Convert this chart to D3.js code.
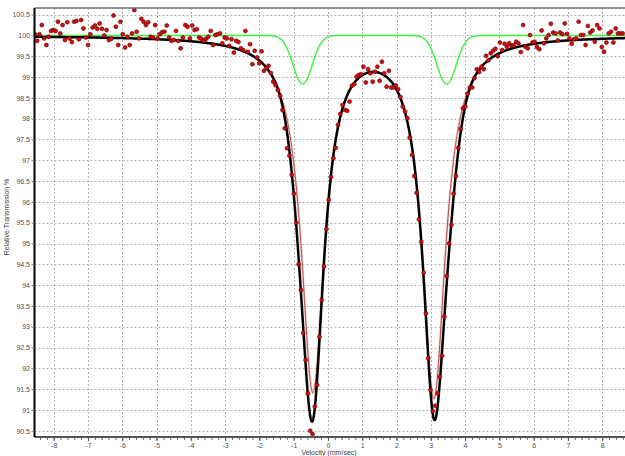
<!DOCTYPE html>
<html><head><meta charset="utf-8">
<script src="https://cdn.jsdelivr.net/npm/d3@7"></script>
<style>body{margin:0;background:#fff;} svg{display:block;}</style>
</head><body>
<script>
// ---- data ----
const xTickLabels = [-8,-7,-6,-5,-4,-3,-2,-1,0,1,2,3,4,5,6,7,8];
const yTickLabels = [90.5,91,91.5,92,92.5,93,93.5,94,94.5,95,95.5,96,96.5,97,97.5,98,98.5,99,99.5,100,100.5];
// channel velocity calibration (mm/s)
const channelStart = -8.55;
const channelStep = 0.0675;
// measured relative transmission per channel (%)
const transmission = [
100.03,99.87,100.03,100.25,99.93,99.77,99.97,100.11,100.13,100.11,
100.33,100.05,100.25,99.89,100.32,99.93,99.84,100.33,100.35,99.91,
100.37,100.17,99.95,99.77,100.03,100.19,100.24,100.16,100.29,100.16,
100.00,100.13,99.89,99.92,100.48,100.21,99.77,100.33,100.03,99.71,
99.97,99.77,100.05,100.61,100.09,99.93,100.40,100.33,100.25,100.32,
99.97,99.95,100.25,99.93,100.03,100.08,100.09,100.24,99.95,99.87,
99.89,100.11,99.87,99.69,99.95,100.25,100.21,99.93,
100.24,
100.13,100.15,99.95,99.92,99.87,99.92,99.97,100.11,99.77,100.01,
100.03,100.05,99.81,99.95,99.93,99.75,99.91,99.59,99.87,99.84,
99.69,99.65,100.11,99.61,99.79,99.31,99.63,
99.47,99.33,99.62,99.15,99.21,99.27,99.10,98.89,98.81,98.69,98.55,98.21,97.77,97.29,97.11,96.65,
96.20,95.50,94.50,93.88,92.85,92.20,91.40,90.50,90.42,91.08,91.60,92.76,93.64,94.45,95.35,96.05,96.60,97.05,97.30,
97.85,98.11,98.33,98.21,98.19,98.41,98.79,98.83,99.01,99.05,
99.07,99.25,98.87,99.19,99.09,98.89,99.13,99.25,98.91,99.37,
99.09,98.77,99.15,98.75,98.75,98.80,98.71,98.52,98.29,98.17,
98.01,97.55,97.13,
96.62,96.22,95.58,95.04,94.30,93.32,92.24,91.48,90.97,91.10,91.40,91.80,92.30,93.24,94.22,95.00,95.45,96.20,96.62,
97.30,97.75,98.25,98.29,98.60,98.75,98.75,98.98,99.19,99.12,
99.25,99.19,99.51,99.40,99.57,99.63,99.68,99.50,99.83,99.65,
99.80,99.73,99.81,99.75,99.77,99.85,99.81,99.60,100.25,99.73,
99.69,100.01,99.83,99.85,99.72,99.67,100.12,99.81,99.93,100.01,
100.28,100.07,100.05,99.88,100.07,100.03,100.29,100.04,99.93,99.80,
99.91,99.93,100.33,100.01,100.01,99.77,100.23,100.07,100.12,99.85,
100.25,100.17,99.72,99.61,99.83,100.05,100.09,99.83,100.17,100.05,
100.05,100.05
];
// fitted sub-spectra parameters
const doubletCenters = [-0.44, 3.09];
const doubletDepths = [8.475, 8.615];
const doubletHWHM = 0.41;
const minorCenters = [-0.74, 3.46];
const minorDepths = [1.17, 1.17];
const minorSigma = 0.28;

// ---- drawing ----
const W = 625, H = 456;
const L = 34.5, R = 625, T = 8, B = 437;
const svg = d3.select("body").append("svg").attr("width", W).attr("height", H);
const x = d3.scaleLinear().domain([-8.56, 8.665]).range([L, R]);
const y = d3.scaleLinear().domain([90.35, 100.66]).range([B, T]);

svg.append("defs").append("clipPath").attr("id","clip")
  .append("rect").attr("x",L).attr("y",T).attr("width",R-L).attr("height",B-T);

// grid
const grid = svg.append("g").attr("stroke","#b4b4b4").attr("stroke-width",1).attr("stroke-dasharray","2,2");
grid.selectAll("line.v").data(xTickLabels).join("line")
  .attr("x1",d=>Math.round(x(d))+0.5).attr("x2",d=>Math.round(x(d))+0.5).attr("y1",T).attr("y2",B);
grid.selectAll("line.h").data(yTickLabels).join("line").attr("class","h")
  .attr("y1",d=>Math.round(y(d))+0.5).attr("y2",d=>Math.round(y(d))+0.5).attr("x1",L).attr("x2",R);

function doubletAbs(v){
  let s = 0;
  doubletCenters.forEach((c,k)=>{ const g2 = doubletHWHM*doubletHWHM; s += doubletDepths[k]*g2/(g2+(v-c)*(v-c)); });
  return s;
}
function minorAbs(v){
  let s = 0;
  minorCenters.forEach((c,k)=>{ s += minorDepths[k]*Math.exp(-(v-c)*(v-c)/(2*minorSigma*minorSigma)); });
  return s;
}
const vs = d3.range(-8.56, 8.67, 0.005);
const line = d3.line().x(d=>x(d[0])).y(d=>y(d[1]));
const plot = svg.append("g").attr("clip-path","url(#clip)");

plot.append("path").attr("d", line(vs.map(v=>[v,100-minorAbs(v)])))
  .attr("fill","none").attr("stroke","#3df23d").attr("stroke-width",1.4);
const redPts = vs.map(v=>[v,100-doubletAbs(v)]);
plot.append("path").attr("d", line(redPts))
  .attr("fill","none").attr("stroke","#e8baba").attr("stroke-width",2.6).attr("opacity",0.55);
plot.append("path").attr("d", line(redPts))
  .attr("fill","none").attr("stroke","#b04444").attr("stroke-width",1);
plot.append("path").attr("d", line(vs.map(v=>[v,100-doubletAbs(v)-minorAbs(v)])))
  .attr("fill","none").attr("stroke","#000").attr("stroke-width",2.5);

const pts = transmission.map((t,i)=>({v: channelStart + i*channelStep, t}));
plot.selectAll("circle").data(pts).join("circle")
  .attr("cx",d=>x(d.v)).attr("cy",d=>y(d.t)).attr("r",2.0)
  .attr("fill","#cc1111").attr("stroke","#6a0000").attr("stroke-width",0.6);

// top border
svg.append("line").attr("x1",L).attr("x2",R).attr("y1",T).attr("y2",T)
  .attr("stroke","#6e6e6e").attr("stroke-width",1.5);

// bottom axis
const minor = d3.range(-42, 44).map(k=>k*0.2).filter(v=>v>=-8.56 && v<=8.665);
const gxMinor = svg.append("g").attr("transform",`translate(0,${B})`)
  .call(d3.axisBottom(x).tickValues(minor).tickSize(3).tickFormat(""));
gxMinor.select(".domain").remove();
gxMinor.selectAll("line").attr("stroke","#666");
const gx = svg.append("g").attr("transform",`translate(0,${B})`)
  .call(d3.axisBottom(x).tickValues(xTickLabels).tickSize(4).tickPadding(2).tickFormat(d=>String(d)));
gx.select(".domain").attr("stroke","#555").attr("stroke-width",2).attr("d",`M${L},0H${R}`);
gx.selectAll("line").attr("stroke","#555");
gx.selectAll("text").attr("font-family","Liberation Sans, Arial, sans-serif").attr("font-size",7).attr("fill","#505050");

// left axis
const gy = svg.append("g").attr("transform",`translate(${L},0)`)
  .call(d3.axisLeft(y).tickValues(yTickLabels).tickSize(3).tickPadding(1.5).tickFormat(d=>String(d)));
gy.select(".domain").attr("stroke","#000").attr("stroke-width",2).attr("d",`M0,${T}V${B}`);
gy.selectAll("line").attr("stroke","#777");
gy.selectAll("text").attr("font-family","Liberation Sans, Arial, sans-serif").attr("font-size",7).attr("fill","#505050");

// titles
svg.append("text").attr("x",329).attr("y",455).attr("text-anchor","middle")
  .attr("font-family","Liberation Sans, Arial, sans-serif").attr("font-size",7).attr("fill","#404040")
  .text("Velocity (mm/sec)");
svg.append("text").attr("transform","translate(9,217) rotate(-90)").attr("text-anchor","middle")
  .attr("font-family","Liberation Sans, Arial, sans-serif").attr("font-size",7).attr("fill","#404040")
  .text("Relative Transmission %");
</script>
</body></html>
